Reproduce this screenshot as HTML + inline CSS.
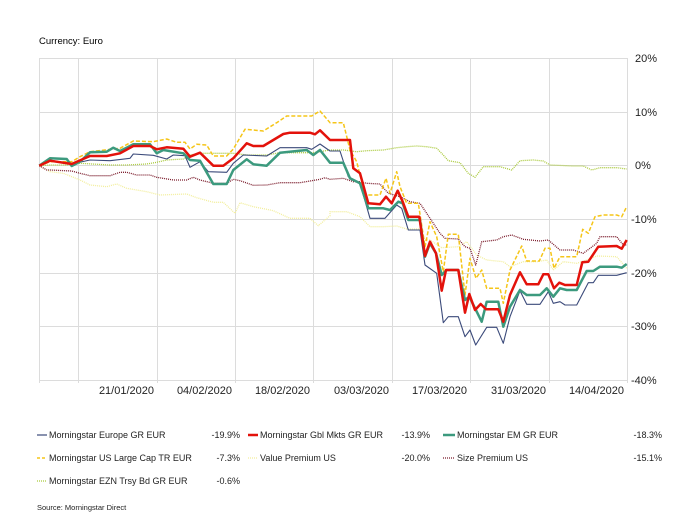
<!DOCTYPE html>
<html><head><meta charset="utf-8"><style>
html,body{margin:0;padding:0;background:#fff;width:700px;height:525px;overflow:hidden}
svg{display:block;font-family:"Liberation Sans",sans-serif}
</style></head><body>
<svg id="s" width="700" height="525" xmlns="http://www.w3.org/2000/svg">
<text x="39" y="44" font-size="9.5" fill="#000">Currency: Euro</text>
<g stroke="#dcdcdc" stroke-width="1">
<line x1="39" y1="58.5" x2="627" y2="58.5"/><line x1="39" y1="112.5" x2="627" y2="112.5"/><line x1="39" y1="165.5" x2="627" y2="165.5"/><line x1="39" y1="219.5" x2="627" y2="219.5"/><line x1="39" y1="273.5" x2="627" y2="273.5"/><line x1="39" y1="326.5" x2="627" y2="326.5"/><line x1="39" y1="380.5" x2="627" y2="380.5"/>
<line x1="39.5" y1="58" x2="39.5" y2="383"/><line x1="78.5" y1="58" x2="78.5" y2="383"/><line x1="157.5" y1="58" x2="157.5" y2="383"/><line x1="235.5" y1="58" x2="235.5" y2="383"/><line x1="313.5" y1="58" x2="313.5" y2="383"/><line x1="392.5" y1="58" x2="392.5" y2="383"/><line x1="470.5" y1="58" x2="470.5" y2="383"/><line x1="549.5" y1="58" x2="549.5" y2="383"/><line x1="627.5" y1="58" x2="627.5" y2="383"/>
</g>
<g font-size="11" fill="#222">
<text x="635" y="62">20%</text><text x="635" y="116">10%</text><text x="635" y="169">0%</text><text x="631" y="223">-10%</text><text x="631" y="277">-20%</text><text x="631" y="330">-30%</text><text x="631" y="384">-40%</text>
<g text-anchor="end"><text x="154" y="394">21/01/2020</text><text x="232" y="394">04/02/2020</text><text x="310" y="394">18/02/2020</text><text x="389" y="394">03/03/2020</text><text x="467" y="394">17/03/2020</text><text x="546" y="394">31/03/2020</text><text x="624" y="394">14/04/2020</text></g>
</g>
<g id="lines" fill="none" stroke-linejoin="round"></g>
<g font-size="9" fill="#222">
<line x1="37" y1="435" x2="47" y2="435" stroke="#3b4a7a" stroke-width="1.2"/><text x="49" y="438">Morningstar Europe GR EUR</text><text x="240" y="438" text-anchor="end">-19.9%</text>
<line x1="248" y1="435" x2="258" y2="435" stroke="#e3120b" stroke-width="2.5"/><text x="260" y="438">Morningstar Gbl Mkts GR EUR</text><text x="430" y="438" text-anchor="end">-13.9%</text>
<line x1="443" y1="435" x2="455" y2="435" stroke="#3c9a7e" stroke-width="2.5"/><text x="457" y="438">Morningstar EM GR EUR</text><text x="662" y="438" text-anchor="end">-18.3%</text>
<line x1="37" y1="458" x2="47" y2="458" stroke="#f5c518" stroke-width="1.5" stroke-dasharray="3,2"/><text x="49" y="461">Morningstar US Large Cap TR EUR</text><text x="240" y="461" text-anchor="end">-7.3%</text>
<line x1="248" y1="458" x2="258" y2="458" stroke="#f2ee9a" stroke-width="1.2" stroke-dasharray="1,1"/><text x="260" y="461">Value Premium US</text><text x="430" y="461" text-anchor="end">-20.0%</text>
<line x1="443" y1="458" x2="455" y2="458" stroke="#7a1a2a" stroke-width="1.2" stroke-dasharray="1,1"/><text x="457" y="461">Size Premium US</text><text x="662" y="461" text-anchor="end">-15.1%</text>
<line x1="37" y1="481" x2="47" y2="481" stroke="#a9c93a" stroke-width="1.2" stroke-dasharray="1,1"/><text x="49" y="484">Morningstar EZN Trsy Bd GR EUR</text><text x="240" y="484" text-anchor="end">-0.6%</text>
<text x="37" y="510" font-size="7.5">Source: Morningstar Direct</text>
</g>
</svg>
<script>
function conv(L,R){var p=[];for(var i=0;i<L.length;i+=2)p.push((L[i]/3).toFixed(1)+','+(40+L[i+1]/3).toFixed(1));for(var j=0;j<R.length;j+=2)p.push((330+R[j]/3).toFixed(1)+','+(40+R[j+1]/3).toFixed(1));return p.join(' ');}
var S=[
["#f2ee9a",1.3,"1,1",[118,377,150,395,190,400,240,420,270,435,320,440,350,432,380,445,440,455,480,465,560,462,590,473,640,487,670,487,705,520,720,488,760,500,800,508,820,512,870,535,930,535,955,557,990,527],[0,515,50,515,90,530,120,560,160,560,200,558,230,567,270,567,285,600,300,600,335,623,385,620,410,605,440,645,470,660,520,665,540,680,580,665,620,665,650,660,670,690,700,665,740,670,770,660,800,648,860,650,890,685]],
["#a9c93a",1.3,"1,1",[118,377,150,375,200,375,240,370,330,375,380,375,440,372,470,367,500,360,550,357,570,345,600,340,700,340,740,345,800,345,840,338,940,338],[0,330,40,330,80,335,110,332,160,330,200,323,230,320,260,318,290,320,320,325,340,345,355,362,390,368,415,400,435,412,460,380,510,380,545,390,570,362,610,360,640,363,660,375,730,378,760,378,785,390,810,383,860,383,890,387]],
["#7a1a2a",1.3,"1,1",[118,377,140,390,150,390,215,393,240,400,270,407,330,407,360,397,380,397,410,405,450,405,470,412,520,420,560,420,580,412,600,420,640,430,680,430,700,418,720,422,760,436,800,435,840,428,900,428,930,423,960,418,975,413,990,418],[0,418,40,415,70,425,90,425,110,430,150,432,175,460,210,470,240,485,270,490,300,535,330,580,345,595,385,597,405,620,420,625,437,675,455,605,500,600,520,590,545,585,580,598,630,603,655,600,690,630,730,630,760,640,800,610,810,590,860,590,880,615,890,615]],
["#f5c518",1.5,"4,2",[118,377,150,365,215,365,240,350,270,335,360,325,400,303,460,305,500,297,530,307,555,307,570,327,590,313,620,315,640,348,680,348,700,327,735,268,760,270,790,273,830,248,860,228,935,228,960,213,990,248,1020,248],[30,248,40,248,60,330,80,365,105,465,150,465,168,415,180,460,200,395,210,440,230,490,265,490,285,620,300,545,320,590,340,695,355,583,385,583,405,765,420,655,438,715,455,690,470,745,510,745,520,790,540,690,575,618,590,663,628,663,645,625,660,625,672,685,690,650,740,650,758,568,775,580,795,530,820,525,860,525,875,530,890,500]],
["#3b4a7a",1.1,"",[118,377,150,360,215,372,270,360,330,362,390,355,400,342,460,346,500,357,520,345,555,347,570,382,600,365,625,395,680,397,700,370,730,345,800,348,840,323,920,323,935,328,960,312,990,333],[30,333,55,410,90,430,120,535,165,535,200,495,215,505,235,570,270,570,285,675,320,700,340,848,355,830,385,830,405,890,420,870,437,915,470,862,500,862,520,910,540,830,570,752,590,793,630,793,655,755,670,790,690,785,705,795,740,795,775,728,790,728,805,706,860,706,890,698]],
["#3c9a7e",2.5,"",[118,377,150,355,200,357,215,378,240,365,270,337,320,335,340,323,360,333,400,313,450,313,470,340,490,330,550,340,570,360,600,362,640,432,680,432,700,390,740,358,760,373,800,377,840,338,920,330,940,345,960,330,990,368,1020,368],[40,368,60,415,90,430,115,505,160,505,180,510,205,485,218,490,235,540,270,540,285,650,300,610,318,640,335,705,350,690,385,690,405,780,418,770,455,845,470,785,505,785,520,860,540,800,570,750,590,765,630,765,650,745,670,770,690,745,710,750,740,750,770,693,790,693,810,680,860,680,875,683,890,672]],
["#e3120b",2.5,"",[118,377,150,362,215,372,270,348,320,348,360,340,400,318,450,318,470,328,500,322,550,326,570,350,600,338,640,377,670,377,700,355,740,310,760,318,790,318,850,282,870,278,930,278,945,283,960,271,990,300,1025,300],[60,300,70,385,90,400,115,490,150,493,168,470,185,490,203,452,218,485,235,530,268,530,285,648,300,605,318,640,335,752,348,690,385,690,405,818,418,762,435,810,452,792,468,808,505,808,520,845,540,765,570,697,590,733,625,733,640,703,655,703,672,745,688,728,705,735,740,735,757,667,775,665,805,620,860,618,875,626,890,600]]
];
var g=document.getElementById('lines'),h='';
S.forEach(function(s){h+='<polyline points="'+conv(s[3],s[4])+'" stroke="'+s[0]+'" stroke-width="'+s[1]+'"'+(s[2]?' stroke-dasharray="'+s[2]+'"':'')+'/>';});
g.innerHTML=h;
</script>
</body></html>
